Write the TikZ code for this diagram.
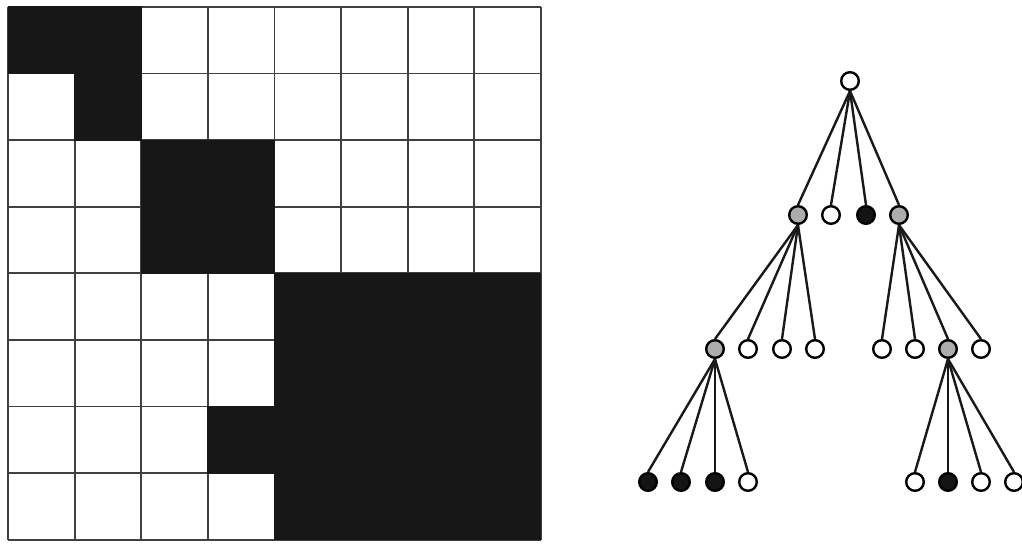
\documentclass[tikz,border=0pt]{standalone}
\usetikzlibrary{positioning}

\begin{document}
\begin{tikzpicture}[x=0.25mm, y=-0.25mm,
  vtx/.style={circle, draw=black, line width=0.6mm, minimum size=4.4mm, inner sep=0pt, fill=white},
  vgray/.style={vtx, fill=black!32},
  vblack/.style={vtx, fill=black!92},
  edge/.style={line width=0.6mm, color=black!90},
  cell/.style={fill=black!91, draw=none},
]
\useasboundingbox (0,0) rectangle (1022,544);

% --- Matrix grid (8x8), origin at (8,7), cell 66.6 ---
\def\cs{66.6}
\begin{scope}[shift={(8,7)}]
  \foreach \i in {0,...,8} {
    \draw[black!75, line width=0.45mm] (\i*\cs,0) -- (\i*\cs,8*\cs);
    \draw[black!75, line width=0.45mm] (0,\i*\cs) -- (8*\cs,\i*\cs);
  }
  % black blocks (col,row)
  \foreach \c/\r in {0/0,1/0,1/1,2/2,3/2,2/3,3/3,3/6,
                     4/4,5/4,6/4,7/4,4/5,5/5,6/5,7/5,
                     4/6,5/6,6/6,7/6,4/7,5/7,6/7,7/7} {
    \fill[cell] (\c*\cs-0.5,\r*\cs-0.5) rectangle (\c*\cs+\cs+0.5,\r*\cs+\cs+0.5);
  }
\end{scope}

% --- Tree ---
\node[vtx] (r) at (850,81) {};

\node[vgray]  (a1) at (798,215) {};
\node[vtx]    (a2) at (831,215) {};
\node[vblack] (a3) at (866,215) {};
\node[vgray]  (a4) at (899,215) {};

\node[vgray] (b1) at (715,349) {};
\node[vtx]   (b2) at (748,349) {};
\node[vtx]   (b3) at (782,349) {};
\node[vtx]   (b4) at (815,349) {};
\node[vtx]   (b5) at (882,349) {};
\node[vtx]   (b6) at (915,349) {};
\node[vgray] (b7) at (948,349) {};
\node[vtx]   (b8) at (981,349) {};

\node[vblack] (c1) at (648,482) {};
\node[vblack] (c2) at (681,482) {};
\node[vblack] (c3) at (715,482) {};
\node[vtx]    (c4) at (748,482) {};
\node[vtx]    (c5) at (915,482) {};
\node[vblack] (c6) at (948,482) {};
\node[vtx]    (c7) at (981,482) {};
\node[vtx]    (c8) at (1014,482) {};

% --- Edges ---
\foreach \p/\kids in {r/{a1,a2,a3,a4}, a1/{b1,b2,b3,b4}, a4/{b5,b6,b7,b8},
                      b1/{c1,c2,c3,c4}, b7/{c5,c6,c7,c8}} {
  \foreach \k in \kids
    \draw[edge] (\p.south) -- (\k.north);
}

\end{tikzpicture}
\end{document}
